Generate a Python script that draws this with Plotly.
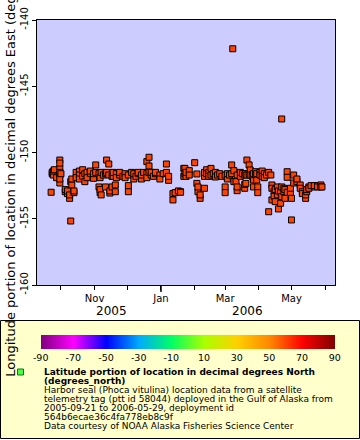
import plotly.graph_objects as go

# ---- data ----
dates = [
    "2005-09-22", "2005-09-23", "2005-09-23", "2005-09-24", "2005-09-24", "2005-09-25", "2005-09-27",
    "2005-09-30", "2005-09-30", "2005-09-30", "2005-09-30", "2005-09-30", "2005-09-30", "2005-09-30",
    "2005-10-01", "2005-10-05", "2005-10-05", "2005-10-07", "2005-10-07", "2005-10-09", "2005-10-09",
    "2005-10-10", "2005-10-10", "2005-10-11", "2005-10-11", "2005-10-13", "2005-10-13", "2005-10-15",
    "2005-10-15", "2005-10-18", "2005-10-18", "2005-10-18", "2005-10-21", "2005-10-21", "2005-10-23",
    "2005-10-23", "2005-10-25", "2005-10-25", "2005-10-28", "2005-10-28", "2005-10-31", "2005-10-31",
    "2005-11-02", "2005-11-02", "2005-11-05", "2005-11-05", "2005-11-06", "2005-11-06", "2005-11-06",
    "2005-11-07", "2005-11-07", "2005-11-09", "2005-11-11", "2005-11-11", "2005-11-12", "2005-11-12",
    "2005-11-14", "2005-11-14", "2005-11-15", "2005-11-15", "2005-11-17", "2005-11-17", "2005-11-18",
    "2005-11-18", "2005-11-20", "2005-11-20", "2005-11-21", "2005-11-21", "2005-11-24", "2005-11-24",
    "2005-11-27", "2005-11-29", "2005-11-29", "2005-12-02", "2005-12-02", "2005-12-02", "2005-12-05",
    "2005-12-07", "2005-12-07", "2005-12-09", "2005-12-11", "2005-12-11", "2005-12-14", "2005-12-14",
    "2005-12-16", "2005-12-19", "2005-12-19", "2005-12-19", "2005-12-21", "2005-12-21", "2005-12-21",
    "2005-12-23", "2005-12-23", "2005-12-25", "2005-12-27", "2005-12-27", "2005-12-31", "2005-12-31",
    "2006-01-03", "2006-01-06", "2006-01-06", "2006-01-08", "2006-01-08", "2006-01-12", "2006-01-12",
    "2006-01-14", "2006-01-17", "2006-01-19", "2006-01-19", "2006-01-22", "2006-01-22", "2006-01-23",
    "2006-01-23", "2006-01-24", "2006-01-24", "2006-01-27", "2006-01-27", "2006-02-01", "2006-02-03",
    "2006-02-03", "2006-02-04", "2006-02-04", "2006-02-06", "2006-02-06", "2006-02-10", "2006-02-10",
    "2006-02-10", "2006-02-12", "2006-02-12", "2006-02-14", "2006-02-14", "2006-02-16", "2006-02-16",
    "2006-02-18", "2006-02-20", "2006-02-20", "2006-02-22", "2006-02-24", "2006-02-26", "2006-03-01",
    "2006-03-01", "2006-03-01", "2006-03-03", "2006-03-03", "2006-03-05", "2006-03-07", "2006-03-07",
    "2006-03-08", "2006-03-09", "2006-03-09", "2006-03-11", "2006-03-12", "2006-03-12", "2006-03-12",
    "2006-03-15", "2006-03-15", "2006-03-17", "2006-03-19", "2006-03-19", "2006-03-19", "2006-03-20",
    "2006-03-20", "2006-03-21", "2006-03-21", "2006-03-23", "2006-03-23", "2006-03-24", "2006-03-24",
    "2006-03-26", "2006-03-26", "2006-03-27", "2006-03-27", "2006-03-27", "2006-03-29", "2006-03-29",
    "2006-03-30", "2006-03-30", "2006-03-31", "2006-03-31", "2006-04-02", "2006-04-02", "2006-04-04",
    "2006-04-04", "2006-04-06", "2006-04-06", "2006-04-08", "2006-04-10", "2006-04-10", "2006-04-12",
    "2006-04-13", "2006-04-13", "2006-04-13", "2006-04-15", "2006-04-15", "2006-04-16", "2006-04-16",
    "2006-04-18", "2006-04-18", "2006-04-19", "2006-04-19", "2006-04-21", "2006-04-21", "2006-04-22",
    "2006-04-22", "2006-04-22", "2006-04-24", "2006-04-24", "2006-04-25", "2006-04-25", "2006-04-27",
    "2006-04-27", "2006-04-27", "2006-04-30", "2006-04-30", "2006-05-01", "2006-05-01", "2006-05-03",
    "2006-05-03", "2006-05-06", "2006-05-06", "2006-05-09", "2006-05-09", "2006-05-11", "2006-05-11",
    "2006-05-14", "2006-05-14", "2006-05-15", "2006-05-15", "2006-05-17", "2006-05-17", "2006-05-19",
    "2006-05-22", "2006-05-22", "2006-05-25", "2006-05-25", "2006-05-28", "2006-05-28", "2006-05-29",
]
longitudes = [
    -153.0, -151.6, -151.5, -151.7, -151.4, -151.3, -151.9,
    -150.57, -151.2, -151.7, -152.3, -150.8, -151.5, -152.0,
    -151.6, -152.96, -152.8, -153.1, -152.9, -153.46, -153.2,
    -155.17, -152.2, -152.45, -152.0, -153.03, -152.9, -151.5,
    -151.9, -151.4, -151.7, -152.0, -151.3, -151.8, -152.2,
    -151.6, -151.5, -151.9, -151.57, -151.4, -151.95, -151.6,
    -150.94, -151.5, -152.6, -151.6, -153.03, -151.9, -152.8,
    -151.5, -153.2, -151.7, -152.6, -151.6, -150.57, -151.5,
    -150.87, -151.7, -153.06, -152.9, -152.6, -151.8, -151.8,
    -151.5, -152.45, -152.96, -151.6, -151.9, -151.7, -151.5,
    -151.8, -151.6, -151.9, -152.5, -152.96, -151.7, -151.5,
    -152.0, -151.6, -151.8, -151.6, -151.5, -152.0, -151.7,
    -151.5, -150.69, -151.6, -151.9, -150.36, -151.02, -151.5,
    -151.7, -151.5, -151.8, -151.6, -151.5, -151.7, -152.0,
    -151.6, -150.87, -151.5, -152.1, -151.8, -153.58, -153.1,
    -153.03, -152.9, -152.96, -153.0, -151.2, -151.8, -151.2,
    -151.6, -151.8, -151.5, -151.37, -151.7, -150.77, -151.62,
    -152.33, -152.96, -152.6, -153.46, -153.2, -152.7, -151.8,
    -151.5, -151.3, -151.6, -151.5, -151.8, -151.2, -151.7,
    -151.6, -151.5, -151.85, -151.7, -151.6, -151.8, -152.6,
    -153.03, -151.7, -152.0, -151.6, -151.7, -150.94, -151.6,
    -142.17, -151.37, -152.2, -152.2, -151.7, -152.88, -152.6,
    -151.8, -151.5, -151.6, -152.7, -152.4, -151.7, -152.33,
    -151.6, -150.57, -151.7, -150.94, -151.6, -151.32, -151.7,
    -151.7, -151.8, -152.08, -152.6, -151.6, -151.45, -151.7,
    -152.08, -151.6, -152.6, -153.03, -151.5, -151.7, -151.4,
    -151.8, -151.6, -151.9, -151.7, -154.47, -151.5, -151.7,
    -152.45, -153.58, -152.7, -152.96, -153.3, -153.71, -152.8,
    -153.2, -152.6, -154.26, -152.9, -153.83, -153.0, -147.47,
    -152.6, -153.33, -152.96, -152.7, -153.46, -152.8, -151.45,
    -151.87, -153.0, -153.03, -152.7, -153.46, -155.09, -151.7,
    -152.3, -152.2, -152.0, -152.45, -152.7, -152.96, -153.1,
    -153.46, -153.2, -152.96, -152.8, -152.6, -152.7, -152.5,
    -152.6, -152.5, -152.5, -152.6, -152.45, -152.6, -152.6,
]

month_ticks = ["2005-11-01", "2006-01-01", "2006-03-01", "2006-05-01"]
month_labels = ["Nov", "Jan", "Mar", "May"]
year_labels = ["2005", "2006"]
lon_ticks = [-160, -155, -150, -145, -140]
lon_labels = ["-160", "-155", "-150", "-145", "-140"]
cbar_ticks = [-90, -70, -50, -30, -10, 10, 30, 50, 70, 90]
cbar_labels = ["-90", "-70", "-50", "-30", "-10", "10", "30", "50", "70", "90"]

legend_lines = [
    "<b>Latitude portion of location in decimal degrees North</b>",
    "<b>(degrees_north)</b>",
    "Harbor seal (Phoca vitulina) location data from a satellite",
    "telemetry tag (ptt id 58044) deployed in the Gulf of Alaska from",
    "2005-09-21 to 2006-05-29, deployment id",
    "564b6ecae36c4fa778eb8c9f",
    "Data courtesy of NOAA Alaska Fisheries Science Center",
]

rainbow = [
    [0.0, "#800080"], [0.111, "#ff00ff"], [0.222, "#0000ff"], [0.333, "#00aaff"],
    [0.444, "#00ff66"], [0.556, "#aaff00"], [0.667, "#ffd000"], [0.778, "#ff8800"],
    [0.889, "#ff0000"], [1.0, "#800000"],
]

FONT = "DejaVu Sans"

# layout geometry (pixels)
W, H = 360, 440
L, R, T, B = 37, 25, 20, 155
PW, PH = W - L - R, H - T - B


def px(xp):
    return (xp - L) / PW


def py(yp):
    return (H - B - yp) / PH


fig = go.Figure()

fig.add_trace(go.Scatter(
    x=dates, y=longitudes, mode="markers",
    marker=dict(symbol="square", size=6, color="#ff4400",
                line=dict(color="black", width=1)),
    showlegend=False, hoverinfo="x+y",
))

# colour bar (latitude scale)
fig.add_trace(go.Scatter(
    x=[None], y=[None], mode="markers", showlegend=False,
    marker=dict(color=[0], colorscale=rainbow, cmin=-90, cmax=90, showscale=True,
                colorbar=dict(orientation="h", lenmode="pixels", len=294,
                              thicknessmode="pixels", thickness=14,
                              x=px(187.7), xanchor="center", y=py(335), yanchor="top",
                              ypad=0, xpad=0, outlinewidth=0, ticks="",
                              tickvals=cbar_ticks, ticktext=cbar_labels,
                              tickfont=dict(family=FONT, size=9.5, color="black"))),
))

shapes = [
    dict(type="rect", xref="paper", yref="paper", x0=px(0.5), x1=px(359.5),
         y0=py(320.5), y1=py(438.5), line=dict(color="black", width=1),
         fillcolor="#ffffcc", layer="below"),
    dict(type="rect", xref="paper", yref="paper", x0=px(17.5), x1=px(23.5),
         y0=py(369), y1=py(375), line=dict(color="#226622", width=1), fillcolor="#44ff44"),
    dict(type="line", xref="x", yref="paper", x0="2006-01-01", x1="2006-01-01",
         y0=0, y1=py(292), line=dict(color="black", width=1.5)),
]

annotations = []
for txt, xp in zip(year_labels, [111.7, 247]):
    annotations.append(dict(text=txt, xref="paper", yref="paper", x=px(xp), y=py(311),
                            xanchor="center", yanchor="middle", showarrow=False,
                            font=dict(family=FONT, size=12, color="black")))
for i, line in enumerate(legend_lines):
    annotations.append(dict(text=line, xref="paper", yref="paper", x=px(42), y=py(372 + 9 * i),
                            xanchor="left", yanchor="middle", showarrow=False,
                            font=dict(family=FONT, size=9, color="black")))

fig.update_layout(
    width=W, height=H, margin=dict(l=L, r=R, t=T, b=B, pad=0, autoexpand=False),
    paper_bgcolor="white", plot_bgcolor="#ccccff",
    font=dict(family=FONT, size=10, color="black"),
    shapes=shapes, annotations=annotations,
    xaxis=dict(range=["2005-09-09", "2006-06-10"], tickvals=month_ticks, ticktext=month_labels,
               ticks="outside", ticklen=4, tickcolor="black", showgrid=False, zeroline=False,
               showline=True, linecolor="black", linewidth=1, mirror=True, automargin=False,
               tickfont=dict(family=FONT, size=10),
               minor=dict(dtick="M1", tick0="2005-10-01", ticks="outside", ticklen=4,
                          tickcolor="black", showgrid=False)),
    yaxis=dict(range=[-160, -140], tickvals=lon_ticks, ticktext=lon_labels, tickangle=-90,
               ticks="outside", ticklen=4, tickcolor="black", showgrid=False, zeroline=False,
               showline=True, linecolor="black", linewidth=1, mirror=True, automargin=False,
               tickfont=dict(family=FONT, size=10),
               title=dict(text="Longitude portion of location in decimal degrees East (degrees_east)",
                          font=dict(family=FONT, size=13), standoff=0)),
)

fig.write_html("out.html", config={"displayModeBar": False},
               post_script="document.body.style.margin='0px';document.body.style.overflow='hidden';")
